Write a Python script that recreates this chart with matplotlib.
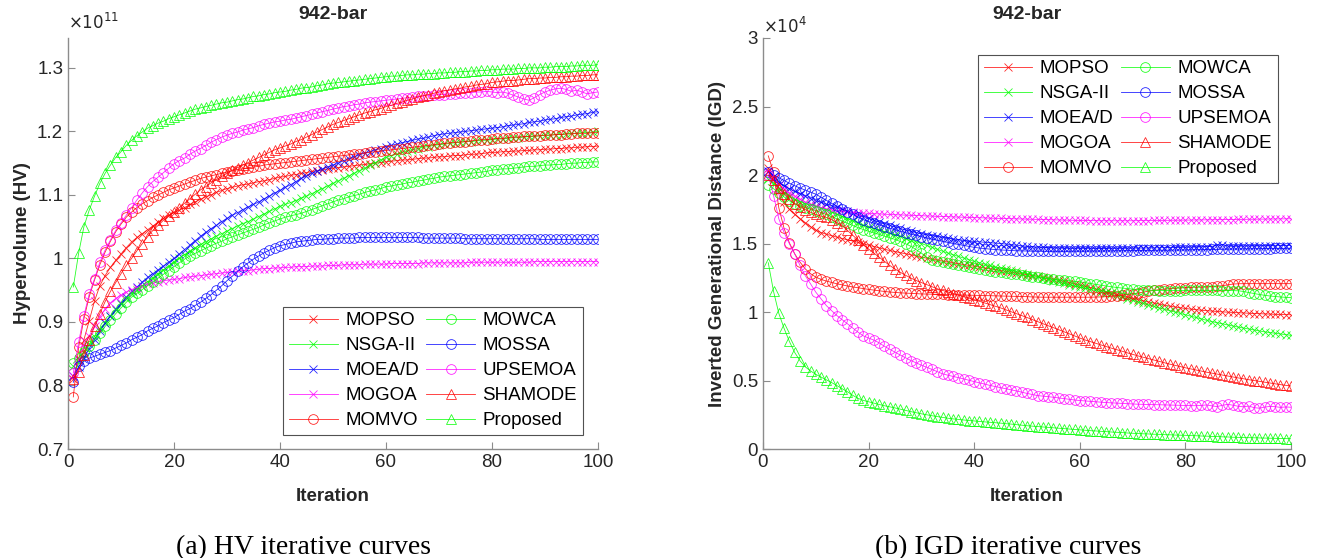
import numpy as np
import matplotlib
matplotlib.use('Agg')
import matplotlib.pyplot as plt
from matplotlib.ticker import FuncFormatter

# iterations
iters = np.arange(1, 101)

names = ['MOPSO', 'NSGA-II', 'MOEA/D', 'MOGOA', 'MOMVO',
         'MOWCA', 'MOSSA', 'UPSEMOA', 'SHAMODE', 'Proposed']

# ---- HV values (x 1e11) ----
hv_mopso = [0.810, 0.842, 0.872, 0.902, 0.933, 0.957, 0.973, 0.986, 0.997, 1.007,
            1.017, 1.026, 1.033, 1.039, 1.045, 1.051, 1.057, 1.063, 1.068, 1.072,
            1.076, 1.080, 1.085, 1.089, 1.093, 1.097, 1.100, 1.104, 1.107, 1.110,
            1.112, 1.114, 1.116, 1.117, 1.119, 1.121, 1.122, 1.124, 1.126, 1.128,
            1.129, 1.131, 1.132, 1.134, 1.135, 1.137, 1.138, 1.139, 1.141, 1.142,
            1.143, 1.144, 1.145, 1.146, 1.147, 1.148, 1.149, 1.150, 1.151, 1.152,
            1.153, 1.154, 1.155, 1.155, 1.156, 1.157, 1.158, 1.158, 1.159, 1.160,
            1.160, 1.161, 1.162, 1.162, 1.163, 1.164, 1.164, 1.165, 1.166, 1.167,
            1.167, 1.168, 1.168, 1.169, 1.169, 1.170, 1.170, 1.171, 1.171, 1.172,
            1.172, 1.173, 1.173, 1.174, 1.174, 1.175, 1.175, 1.176, 1.176, 1.177]
hv_nsga2 = [0.830, 0.840, 0.853, 0.865, 0.877, 0.889, 0.899, 0.909, 0.919, 0.928,
            0.936, 0.944, 0.950, 0.957, 0.963, 0.969, 0.975, 0.982, 0.988, 0.995,
            1.001, 1.006, 1.012, 1.017, 1.022, 1.026, 1.031, 1.035, 1.039, 1.043,
            1.047, 1.051, 1.055, 1.058, 1.062, 1.066, 1.070, 1.074, 1.078, 1.082,
            1.085, 1.088, 1.091, 1.095, 1.098, 1.102, 1.106, 1.110, 1.114, 1.118,
            1.122, 1.126, 1.130, 1.134, 1.138, 1.142, 1.147, 1.151, 1.155, 1.159,
            1.162, 1.164, 1.167, 1.169, 1.171, 1.173, 1.175, 1.176, 1.178, 1.179,
            1.180, 1.181, 1.182, 1.183, 1.184, 1.184, 1.185, 1.186, 1.186, 1.187,
            1.188, 1.188, 1.189, 1.190, 1.190, 1.191, 1.192, 1.192, 1.193, 1.194,
            1.194, 1.195, 1.195, 1.196, 1.197, 1.197, 1.198, 1.198, 1.199, 1.200]
hv_moead = [0.815, 0.829, 0.844, 0.858, 0.872, 0.886, 0.898, 0.910, 0.920, 0.930,
            0.939, 0.948, 0.955, 0.963, 0.970, 0.976, 0.982, 0.988, 0.994, 1.000,
            1.007, 1.014, 1.021, 1.028, 1.035, 1.041, 1.047, 1.052, 1.058, 1.063,
            1.068, 1.072, 1.077, 1.081, 1.085, 1.089, 1.094, 1.098, 1.103, 1.107,
            1.112, 1.116, 1.121, 1.126, 1.130, 1.134, 1.137, 1.141, 1.144, 1.147,
            1.150, 1.154, 1.157, 1.160, 1.163, 1.166, 1.168, 1.171, 1.173, 1.176,
            1.178, 1.180, 1.182, 1.184, 1.186, 1.188, 1.189, 1.191, 1.193, 1.195,
            1.196, 1.197, 1.198, 1.199, 1.200, 1.201, 1.202, 1.203, 1.204, 1.205,
            1.206, 1.207, 1.209, 1.210, 1.211, 1.212, 1.214, 1.215, 1.216, 1.218,
            1.219, 1.220, 1.222, 1.223, 1.224, 1.226, 1.227, 1.228, 1.230, 1.231]
hv_mogoa = [0.815, 0.840, 0.860, 0.878, 0.894, 0.908, 0.920, 0.930, 0.937, 0.942,
            0.947, 0.951, 0.954, 0.957, 0.959, 0.961, 0.963, 0.965, 0.966, 0.967,
            0.968, 0.970, 0.971, 0.972, 0.973, 0.974, 0.975, 0.976, 0.977, 0.978,
            0.979, 0.980, 0.981, 0.981, 0.982, 0.983, 0.984, 0.984, 0.985, 0.985,
            0.986, 0.986, 0.987, 0.987, 0.987, 0.988, 0.988, 0.988, 0.989, 0.989,
            0.989, 0.990, 0.990, 0.990, 0.990, 0.991, 0.991, 0.991, 0.991, 0.991,
            0.992, 0.992, 0.992, 0.992, 0.992, 0.992, 0.993, 0.993, 0.993, 0.993,
            0.993, 0.993, 0.993, 0.993, 0.993, 0.994, 0.994, 0.994, 0.994, 0.994,
            0.994, 0.994, 0.994, 0.994, 0.994, 0.994, 0.994, 0.995, 0.995, 0.995,
            0.995, 0.995, 0.995, 0.995, 0.995, 0.995, 0.995, 0.995, 0.995, 0.995]
hv_momvo = [0.782, 0.860, 0.905, 0.940, 0.966, 0.990, 1.010, 1.027, 1.042, 1.054,
            1.065, 1.073, 1.080, 1.086, 1.091, 1.096, 1.100, 1.104, 1.108, 1.111,
            1.114, 1.117, 1.120, 1.123, 1.126, 1.128, 1.130, 1.132, 1.134, 1.136,
            1.138, 1.140, 1.141, 1.143, 1.144, 1.145, 1.147, 1.148, 1.149, 1.150,
            1.151, 1.152, 1.153, 1.154, 1.155, 1.156, 1.157, 1.158, 1.159, 1.160,
            1.161, 1.162, 1.163, 1.164, 1.165, 1.166, 1.167, 1.168, 1.169, 1.170,
            1.171, 1.172, 1.173, 1.174, 1.175, 1.176, 1.177, 1.178, 1.179, 1.180,
            1.181, 1.182, 1.183, 1.183, 1.184, 1.185, 1.186, 1.187, 1.187, 1.188,
            1.189, 1.189, 1.190, 1.191, 1.191, 1.192, 1.192, 1.193, 1.193, 1.194,
            1.194, 1.195, 1.195, 1.196, 1.196, 1.197, 1.197, 1.197, 1.198, 1.198]
hv_mowca = [0.835, 0.844, 0.853, 0.862, 0.872, 0.882, 0.893, 0.903, 0.913, 0.922,
            0.931, 0.939, 0.945, 0.951, 0.957, 0.963, 0.969, 0.975, 0.981, 0.987,
            0.993, 0.999, 1.004, 1.008, 1.012, 1.016, 1.020, 1.024, 1.027, 1.031,
            1.034, 1.037, 1.040, 1.043, 1.046, 1.049, 1.053, 1.056, 1.059, 1.062,
            1.065, 1.067, 1.069, 1.071, 1.074, 1.077, 1.080, 1.083, 1.086, 1.089,
            1.092, 1.094, 1.097, 1.099, 1.101, 1.104, 1.106, 1.108, 1.110, 1.113,
            1.114, 1.116, 1.117, 1.119, 1.120, 1.122, 1.123, 1.125, 1.126, 1.128,
            1.129, 1.130, 1.131, 1.132, 1.133, 1.134, 1.135, 1.136, 1.137, 1.139,
            1.140, 1.141, 1.141, 1.142, 1.143, 1.144, 1.145, 1.145, 1.146, 1.147,
            1.147, 1.148, 1.148, 1.149, 1.150, 1.150, 1.151, 1.151, 1.152, 1.152]
hv_mossa = [0.805, 0.830, 0.838, 0.843, 0.846, 0.849, 0.852, 0.855, 0.859, 0.863,
            0.867, 0.872, 0.876, 0.880, 0.886, 0.890, 0.894, 0.899, 0.903, 0.907,
            0.912, 0.917, 0.921, 0.926, 0.931, 0.937, 0.943, 0.950, 0.957, 0.965,
            0.972, 0.980, 0.987, 0.993, 0.999, 1.004, 1.009, 1.013, 1.017, 1.020,
            1.022, 1.024, 1.026, 1.027, 1.028, 1.029, 1.030, 1.030, 1.031, 1.031,
            1.032, 1.032, 1.032, 1.032, 1.033, 1.033, 1.033, 1.033, 1.033, 1.033,
            1.033, 1.033, 1.033, 1.033, 1.033, 1.033, 1.032, 1.032, 1.032, 1.032,
            1.032, 1.032, 1.032, 1.032, 1.031, 1.031, 1.031, 1.031, 1.031, 1.031,
            1.031, 1.031, 1.031, 1.031, 1.031, 1.031, 1.031, 1.031, 1.030, 1.030,
            1.030, 1.030, 1.030, 1.030, 1.030, 1.030, 1.030, 1.030, 1.030, 1.030]
hv_upsemoa = [0.820, 0.868, 0.910, 0.944, 0.968, 0.994, 1.013, 1.029, 1.044, 1.056,
              1.068, 1.080, 1.092, 1.103, 1.113, 1.121, 1.128, 1.135, 1.142, 1.149,
              1.154, 1.158, 1.164, 1.169, 1.173, 1.178, 1.183, 1.187, 1.191, 1.194,
              1.197, 1.199, 1.202, 1.204, 1.206, 1.209, 1.211, 1.213, 1.215, 1.216,
              1.218, 1.219, 1.221, 1.223, 1.225, 1.227, 1.229, 1.231, 1.233, 1.235,
              1.237, 1.239, 1.240, 1.242, 1.243, 1.245, 1.246, 1.247, 1.248, 1.249,
              1.250, 1.251, 1.252, 1.253, 1.254, 1.255, 1.256, 1.256, 1.257, 1.258,
              1.258, 1.259, 1.259, 1.260, 1.261, 1.261, 1.262, 1.262, 1.263, 1.262,
              1.261, 1.262, 1.260, 1.257, 1.254, 1.251, 1.249, 1.253, 1.258, 1.262,
              1.265, 1.267, 1.268, 1.266, 1.263, 1.265, 1.262, 1.259, 1.261, 1.262]
hv_shamode = [0.810, 0.822, 0.848, 0.872, 0.893, 0.913, 0.932, 0.948, 0.962, 0.976,
              0.989, 1.000, 1.012, 1.023, 1.034, 1.044, 1.052, 1.060, 1.067, 1.073,
              1.080, 1.087, 1.094, 1.101, 1.108, 1.113, 1.119, 1.124, 1.129, 1.134,
              1.139, 1.143, 1.147, 1.151, 1.155, 1.159, 1.163, 1.167, 1.171, 1.174,
              1.177, 1.180, 1.184, 1.187, 1.191, 1.195, 1.199, 1.203, 1.207, 1.211,
              1.214, 1.217, 1.220, 1.223, 1.226, 1.229, 1.231, 1.234, 1.236, 1.239,
              1.241, 1.244, 1.246, 1.249, 1.251, 1.254, 1.256, 1.258, 1.260, 1.262,
              1.264, 1.265, 1.267, 1.268, 1.270, 1.271, 1.273, 1.274, 1.275, 1.277,
              1.278, 1.279, 1.280, 1.280, 1.281, 1.282, 1.283, 1.283, 1.284, 1.284,
              1.285, 1.285, 1.286, 1.286, 1.287, 1.287, 1.288, 1.288, 1.289, 1.289]
hv_proposed = [0.955, 1.008, 1.050, 1.076, 1.098, 1.118, 1.134, 1.147, 1.159, 1.168,
               1.178, 1.186, 1.193, 1.199, 1.205, 1.209, 1.213, 1.216, 1.220, 1.223,
               1.226, 1.229, 1.232, 1.235, 1.237, 1.239, 1.241, 1.243, 1.245, 1.246,
               1.248, 1.250, 1.251, 1.253, 1.255, 1.256, 1.258, 1.259, 1.261, 1.262,
               1.263, 1.265, 1.266, 1.268, 1.269, 1.270, 1.272, 1.273, 1.275, 1.276,
               1.277, 1.278, 1.279, 1.280, 1.281, 1.282, 1.283, 1.284, 1.285, 1.286,
               1.287, 1.287, 1.288, 1.289, 1.289, 1.290, 1.290, 1.291, 1.291, 1.292,
               1.292, 1.293, 1.293, 1.294, 1.294, 1.295, 1.295, 1.296, 1.296, 1.297,
               1.297, 1.298, 1.298, 1.298, 1.299, 1.299, 1.300, 1.300, 1.300, 1.301,
               1.301, 1.302, 1.302, 1.302, 1.303, 1.303, 1.304, 1.304, 1.304, 1.305]

# ---- IGD values (x 1e4) ----
igd_mopso = [2.050, 1.970, 1.880, 1.800, 1.750, 1.712, 1.682, 1.652, 1.622, 1.597,
             1.580, 1.568, 1.557, 1.546, 1.536, 1.527, 1.518, 1.508, 1.498, 1.488,
             1.478, 1.468, 1.458, 1.449, 1.441, 1.433, 1.425, 1.417, 1.408, 1.400,
             1.393, 1.386, 1.379, 1.372, 1.365, 1.358, 1.352, 1.346, 1.340, 1.334,
             1.328, 1.320, 1.315, 1.309, 1.303, 1.297, 1.291, 1.285, 1.278, 1.272,
             1.266, 1.260, 1.253, 1.246, 1.239, 1.231, 1.223, 1.215, 1.206, 1.197,
             1.188, 1.178, 1.168, 1.158, 1.148, 1.138, 1.128, 1.118, 1.109, 1.100,
             1.091, 1.082, 1.074, 1.066, 1.058, 1.050, 1.043, 1.037, 1.031, 1.026,
             1.021, 1.017, 1.013, 1.010, 1.007, 1.004, 1.001, 0.999, 0.997, 0.995,
             0.993, 0.991, 0.989, 0.988, 0.986, 0.985, 0.983, 0.982, 0.981, 0.980]
igd_nsga2 = [1.970, 1.940, 1.905, 1.872, 1.845, 1.822, 1.805, 1.790, 1.780, 1.772,
             1.762, 1.748, 1.732, 1.715, 1.698, 1.681, 1.664, 1.648, 1.634, 1.620,
             1.609, 1.598, 1.587, 1.576, 1.565, 1.553, 1.540, 1.527, 1.514, 1.500,
             1.486, 1.472, 1.458, 1.444, 1.430, 1.418, 1.406, 1.394, 1.382, 1.370,
             1.360, 1.350, 1.340, 1.330, 1.320, 1.312, 1.304, 1.296, 1.288, 1.280,
             1.270, 1.260, 1.250, 1.240, 1.230, 1.220, 1.210, 1.200, 1.190, 1.180,
             1.172, 1.164, 1.156, 1.148, 1.140, 1.129, 1.118, 1.107, 1.096, 1.085,
             1.074, 1.063, 1.052, 1.041, 1.030, 1.020, 1.010, 1.000, 0.990, 0.980,
             0.970, 0.960, 0.950, 0.940, 0.930, 0.922, 0.914, 0.906, 0.898, 0.890,
             0.883, 0.876, 0.869, 0.862, 0.855, 0.850, 0.845, 0.840, 0.835, 0.830]
igd_moead = [2.030, 1.990, 1.950, 1.920, 1.900, 1.880, 1.862, 1.844, 1.827, 1.812,
             1.800, 1.788, 1.775, 1.763, 1.750, 1.737, 1.724, 1.711, 1.697, 1.683,
             1.670, 1.658, 1.645, 1.633, 1.621, 1.610, 1.599, 1.589, 1.580, 1.571,
             1.564, 1.558, 1.552, 1.546, 1.540, 1.534, 1.529, 1.524, 1.519, 1.515,
             1.512, 1.509, 1.506, 1.503, 1.500, 1.496, 1.492, 1.488, 1.484, 1.480,
             1.477, 1.474, 1.472, 1.470, 1.468, 1.467, 1.466, 1.465, 1.465, 1.465,
             1.465, 1.465, 1.464, 1.464, 1.464, 1.465, 1.465, 1.465, 1.466, 1.466,
             1.467, 1.467, 1.468, 1.468, 1.469, 1.470, 1.470, 1.471, 1.472, 1.473,
             1.474, 1.475, 1.476, 1.477, 1.478, 1.488, 1.492, 1.482, 1.480, 1.481,
             1.482, 1.482, 1.483, 1.483, 1.484, 1.484, 1.484, 1.485, 1.485, 1.485]
igd_mogoa = [2.020, 1.970, 1.930, 1.900, 1.870, 1.845, 1.822, 1.802, 1.785, 1.772,
             1.762, 1.753, 1.746, 1.740, 1.735, 1.731, 1.728, 1.725, 1.722, 1.720,
             1.718, 1.716, 1.714, 1.712, 1.710, 1.709, 1.707, 1.706, 1.704, 1.703,
             1.701, 1.700, 1.698, 1.697, 1.696, 1.694, 1.693, 1.692, 1.690, 1.689,
             1.688, 1.687, 1.685, 1.684, 1.683, 1.682, 1.681, 1.680, 1.679, 1.678,
             1.677, 1.676, 1.675, 1.674, 1.673, 1.672, 1.671, 1.670, 1.669, 1.668,
             1.668, 1.667, 1.667, 1.666, 1.666, 1.666, 1.666, 1.666, 1.666, 1.666,
             1.667, 1.667, 1.667, 1.668, 1.668, 1.669, 1.669, 1.670, 1.670, 1.671,
             1.671, 1.672, 1.672, 1.673, 1.673, 1.674, 1.674, 1.675, 1.675, 1.676,
             1.676, 1.677, 1.677, 1.678, 1.678, 1.679, 1.679, 1.680, 1.680, 1.681]
igd_momvo = [2.140, 2.020, 1.760, 1.610, 1.505, 1.425, 1.365, 1.315, 1.280, 1.255,
             1.238, 1.226, 1.216, 1.206, 1.198, 1.190, 1.183, 1.177, 1.171, 1.165,
             1.160, 1.155, 1.150, 1.146, 1.143, 1.140, 1.138, 1.136, 1.134, 1.132,
             1.131, 1.130, 1.129, 1.128, 1.127, 1.126, 1.125, 1.124, 1.123, 1.122,
             1.121, 1.120, 1.119, 1.118, 1.117, 1.116, 1.115, 1.114, 1.113, 1.112,
             1.110, 1.109, 1.108, 1.108, 1.108, 1.108, 1.108, 1.108, 1.108, 1.108,
             1.108, 1.108, 1.109, 1.110, 1.112, 1.116, 1.120, 1.124, 1.128, 1.133,
             1.138, 1.145, 1.152, 1.158, 1.163, 1.167, 1.170, 1.173, 1.176, 1.178,
             1.180, 1.181, 1.182, 1.184, 1.186, 1.188, 1.192, 1.198, 1.204, 1.206,
             1.207, 1.207, 1.207, 1.207, 1.207, 1.207, 1.207, 1.207, 1.207, 1.207]
igd_mowca = [1.930, 1.900, 1.870, 1.840, 1.812, 1.790, 1.775, 1.762, 1.750, 1.740,
             1.726, 1.712, 1.696, 1.680, 1.664, 1.648, 1.632, 1.616, 1.602, 1.590,
             1.578, 1.566, 1.554, 1.542, 1.530, 1.515, 1.498, 1.480, 1.455, 1.430,
             1.400, 1.380, 1.370, 1.362, 1.355, 1.349, 1.342, 1.335, 1.328, 1.320,
             1.313, 1.306, 1.300, 1.295, 1.290, 1.284, 1.279, 1.274, 1.268, 1.262,
             1.257, 1.252, 1.248, 1.244, 1.240, 1.236, 1.232, 1.228, 1.224, 1.220,
             1.214, 1.208, 1.202, 1.196, 1.190, 1.184, 1.179, 1.175, 1.171, 1.167,
             1.164, 1.161, 1.159, 1.158, 1.157, 1.157, 1.157, 1.157, 1.157, 1.158,
             1.158, 1.158, 1.158, 1.158, 1.158, 1.158, 1.157, 1.157, 1.156, 1.155,
             1.150, 1.142, 1.135, 1.128, 1.122, 1.117, 1.113, 1.110, 1.107, 1.105]
igd_mossa = [2.020, 2.000, 1.980, 1.960, 1.940, 1.922, 1.905, 1.890, 1.875, 1.860,
             1.838, 1.815, 1.793, 1.772, 1.752, 1.732, 1.712, 1.692, 1.674, 1.660,
             1.648, 1.636, 1.624, 1.612, 1.600, 1.589, 1.579, 1.569, 1.559, 1.550,
             1.541, 1.532, 1.524, 1.516, 1.508, 1.500, 1.493, 1.486, 1.479, 1.472,
             1.467, 1.463, 1.459, 1.456, 1.453, 1.451, 1.449, 1.447, 1.446, 1.445,
             1.444, 1.444, 1.443, 1.443, 1.443, 1.443, 1.443, 1.443, 1.444, 1.444,
             1.444, 1.445, 1.445, 1.445, 1.446, 1.446, 1.447, 1.447, 1.448, 1.448,
             1.449, 1.449, 1.450, 1.450, 1.451, 1.451, 1.452, 1.452, 1.453, 1.453,
             1.454, 1.455, 1.455, 1.456, 1.457, 1.457, 1.458, 1.459, 1.460, 1.460,
             1.461, 1.461, 1.462, 1.462, 1.463, 1.463, 1.464, 1.464, 1.465, 1.465]
igd_upsemoa = [2.000, 1.850, 1.680, 1.580, 1.498, 1.425, 1.340, 1.266, 1.206, 1.145,
               1.096, 1.047, 1.010, 0.974, 0.944, 0.914, 0.883, 0.853, 0.826, 0.810,
               0.795, 0.775, 0.750, 0.728, 0.707, 0.686, 0.666, 0.646, 0.629, 0.612,
               0.597, 0.581, 0.565, 0.549, 0.539, 0.530, 0.521, 0.512, 0.502, 0.492,
               0.483, 0.474, 0.464, 0.456, 0.448, 0.440, 0.432, 0.424, 0.415, 0.406,
               0.398, 0.390, 0.386, 0.382, 0.378, 0.373, 0.368, 0.363, 0.358, 0.354,
               0.351, 0.348, 0.345, 0.342, 0.339, 0.337, 0.335, 0.333, 0.331, 0.329,
               0.327, 0.326, 0.325, 0.324, 0.323, 0.322, 0.321, 0.320, 0.319, 0.318,
               0.317, 0.316, 0.318, 0.322, 0.315, 0.310, 0.319, 0.326, 0.320, 0.312,
               0.308, 0.314, 0.302, 0.298, 0.306, 0.311, 0.309, 0.304, 0.307, 0.305]
igd_shamode = [2.000, 1.960, 1.905, 1.860, 1.822, 1.792, 1.768, 1.748, 1.728, 1.712,
               1.700, 1.690, 1.675, 1.652, 1.631, 1.595, 1.560, 1.525, 1.490, 1.460,
               1.430, 1.400, 1.370, 1.340, 1.314, 1.290, 1.268, 1.248, 1.230, 1.215,
               1.200, 1.185, 1.170, 1.158, 1.146, 1.135, 1.124, 1.113, 1.102, 1.090,
               1.078, 1.066, 1.054, 1.042, 1.030, 1.016, 1.002, 0.988, 0.974, 0.960,
               0.945, 0.930, 0.915, 0.900, 0.886, 0.871, 0.856, 0.841, 0.826, 0.810,
               0.796, 0.784, 0.772, 0.760, 0.748, 0.736, 0.725, 0.714, 0.702, 0.691,
               0.680, 0.670, 0.660, 0.650, 0.640, 0.630, 0.620, 0.611, 0.602, 0.593,
               0.585, 0.577, 0.569, 0.561, 0.554, 0.547, 0.540, 0.533, 0.526, 0.519,
               0.513, 0.506, 0.500, 0.494, 0.488, 0.482, 0.476, 0.470, 0.465, 0.460]
igd_proposed = [1.360, 1.150, 0.990, 0.880, 0.785, 0.705, 0.645, 0.600, 0.570, 0.545,
                0.525, 0.505, 0.485, 0.463, 0.440, 0.418, 0.392, 0.370, 0.355, 0.345,
                0.335, 0.325, 0.316, 0.308, 0.300, 0.291, 0.282, 0.273, 0.265, 0.257,
                0.250, 0.243, 0.237, 0.231, 0.225, 0.220, 0.216, 0.212, 0.208, 0.205,
                0.201, 0.198, 0.195, 0.192, 0.189, 0.185, 0.182, 0.178, 0.174, 0.170,
                0.167, 0.164, 0.161, 0.158, 0.155, 0.152, 0.149, 0.146, 0.143, 0.140,
                0.137, 0.134, 0.132, 0.129, 0.127, 0.124, 0.122, 0.120, 0.117, 0.115,
                0.113, 0.111, 0.110, 0.108, 0.107, 0.105, 0.104, 0.102, 0.101, 0.100,
                0.098, 0.097, 0.095, 0.094, 0.092, 0.091, 0.089, 0.088, 0.086, 0.085,
                0.084, 0.083, 0.082, 0.081, 0.080, 0.079, 0.078, 0.077, 0.076, 0.075]

hv_all = [hv_mopso, hv_nsga2, hv_moead, hv_mogoa, hv_momvo,
          hv_mowca, hv_mossa, hv_upsemoa, hv_shamode, hv_proposed]
igd_all = [igd_mopso, igd_nsga2, igd_moead, igd_mogoa, igd_momvo,
           igd_mowca, igd_mossa, igd_upsemoa, igd_shamode, igd_proposed]

colors = ['#ff0000', '#00ff00', '#0000ff', '#ff00ff', '#ff0000',
          '#00ff00', '#0000ff', '#ff00ff', '#ff0000', '#00ff00']
markers = ['x', 'x', 'x', 'x', 'o', 'o', 'o', 'o', '^', '^']
msizes = {'x': 5.5, 'o': 7, '^': 7.5}

plt.rcParams['font.family'] = 'Liberation Sans'
axis_gray = '#8c8c8c'
text_gray = '#262626'

fig = plt.figure(figsize=(13.18, 5.58), dpi=100)
ax1 = fig.add_axes([0.0516, 0.1953, 0.4021, 0.7366])
ax2 = fig.add_axes([0.5789, 0.1953, 0.4006, 0.7366])


def draw(ax, data):
    for vals, c, m, n in zip(data, colors, markers, names):
        ax.plot(iters, vals, color=c, marker=m, markersize=msizes[m],
                markerfacecolor='none', markeredgewidth=0.6, linewidth=0.6,
                alpha=0.85, label=n)
    for side in ['top', 'right']:
        ax.spines[side].set_visible(False)
    for side in ['left', 'bottom']:
        ax.spines[side].set_color(axis_gray)
        ax.spines[side].set_linewidth(1.0)
    ax.tick_params(direction='in', length=5, width=0.8, color=axis_gray,
                   labelcolor=text_gray, labelsize=13.5)
    ax.set_xlim(0, 100)
    ax.set_xticks([0, 20, 40, 60, 80, 100])
    ax.yaxis.set_major_formatter(FuncFormatter(lambda v, p: '%g' % round(v, 2)))
    ax.set_xlabel('Iteration', fontsize=13.5, fontweight='bold', color=text_gray, labelpad=12)
    ax.set_title('942-bar', fontsize=14, fontweight='bold', color=text_gray, pad=14)
    leg = ax.legend(ncol=2, fontsize=13.5, frameon=True, fancybox=False,
                    handlelength=2.6, labelspacing=0.42, columnspacing=0.4,
                    handletextpad=0.4, borderpad=0.3, borderaxespad=0)
    leg.get_frame().set_edgecolor('#262626')
    leg.get_frame().set_linewidth(0.8)
    return leg


leg1 = draw(ax1, hv_all)
ax1.set_ylim(0.7, 1.347)
ax1.set_yticks([0.7, 0.8, 0.9, 1.0, 1.1, 1.2, 1.3])
ax1.set_ylabel('Hypervolume (HV)', fontsize=13.5, fontweight='bold', color=text_gray)
ax1.text(0.0, 1.015, r'$\times10^{11}$', transform=ax1.transAxes, fontsize=12,
         color=text_gray, ha='left', va='bottom')
leg1.set_bbox_to_anchor((0.406, 0.034), transform=ax1.transAxes)
leg1._loc = 3

leg2 = draw(ax2, igd_all)
ax2.set_ylim(0, 3)
ax2.set_yticks([0, 0.5, 1, 1.5, 2, 2.5, 3])
ax2.set_ylabel('Inverted Generational Distance (IGD)', fontsize=13.5, fontweight='bold',
               color=text_gray)
ax2.text(0.0, 1.005, r'$\times10^{4}$', transform=ax2.transAxes, fontsize=12,
         color=text_gray, ha='left', va='bottom')
leg2.set_bbox_to_anchor((0.407, 0.647), transform=ax2.transAxes)
leg2._loc = 3

fig.text(0.23, -0.004, '(a) HV iterative curves', fontsize=20, family='Liberation Serif',
         ha='center', va='bottom', color='black')
fig.text(0.765, -0.004, '(b) IGD iterative curves', fontsize=20, family='Liberation Serif',
         ha='center', va='bottom', color='black')

fig.savefig('out.png', dpi=100)
